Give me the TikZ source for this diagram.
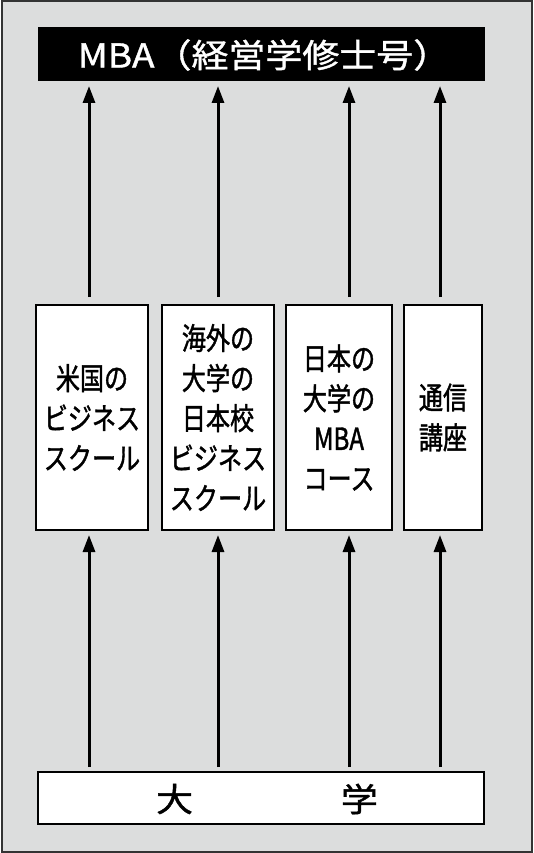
\documentclass[tikz,border=0pt]{standalone}
\usepackage{fontspec}
\newfontfamily\cjk[FakeStretch=0.79, FakeBold=1.3]{Noto Sans CJK JP}
\newfontfamily\cjkwide[FakeStretch=1.12, FakeBold=1.2]{Noto Sans CJK JP}
\usetikzlibrary{arrows.meta}
\definecolor{panel}{HTML}{DCDDDD}
\definecolor{frame}{HTML}{333333}
\tikzset{
  pathbox/.style={draw=black, line width=1.3pt, fill=white, inner sep=0pt, outer sep=0pt,
    align=center, font=\cjk\fontsize{30.5}{40}\selectfont},
  arr/.style={line width=3pt, -{Triangle[length=17pt,width=12pt]}},
}
\begin{document}
\begin{tikzpicture}[x=1pt,y=-1pt]
\useasboundingbox (0,0) rectangle (534,853);
\draw[frame, fill=panel, line width=2pt] (1.5,1.5) rectangle (531.5,851.5);
% top goal
\node[fill=black, inner sep=0pt, outer sep=0pt, minimum width=447pt, minimum height=54pt] (top) at (261.5,54) {};
\node[text=white, font=\cjkwide\fontsize{33}{36}\selectfont, inner sep=0pt] (toptext) at (264,55) {MBA（経営学修士号）};
% middle boxes
\node[pathbox, minimum width=112pt, minimum height=225pt] (b1) at (92,417.5) {米国の\\ビジネス\\スクール};
\node[pathbox, minimum width=112pt, minimum height=225pt] (b2) at (218,417.5) {海外の\\大学の\\日本校\\ビジネス\\スクール};
\node[pathbox, minimum width=106pt, minimum height=225pt] (b3) at (339,417.5) {日本の\\大学の\\MBA\\コース};
\node[pathbox, minimum width=78pt, minimum height=225pt] (b4) at (443,417.5) {通信\\講座};
% bottom
\node[draw=black, line width=1.3pt, fill=white, inner sep=0pt, outer sep=0pt, minimum width=446pt, minimum height=52pt] (bot) at (261,798) {};
\node[font=\cjkwide\fontsize{33}{36}\selectfont, inner sep=0pt] (bottext) at (267,799) {大　　　　学};
% arrow columns
\coordinate (c1) at (89,0);
\coordinate (c2) at (218,0);
\coordinate (c3) at (349,0);
\coordinate (c4) at (440,0);
\foreach \b/\c in {b1/c1,b2/c2,b3/c3,b4/c4}{
  \draw[arr, shorten <=8pt, shorten >=5pt] (\b.north -| \c) -- (top.south -| \c);
  \draw[arr, shorten <=5pt, shorten >=5pt] (bot.north -| \c) -- (\b.south -| \c);
}
\end{tikzpicture}
\end{document}
